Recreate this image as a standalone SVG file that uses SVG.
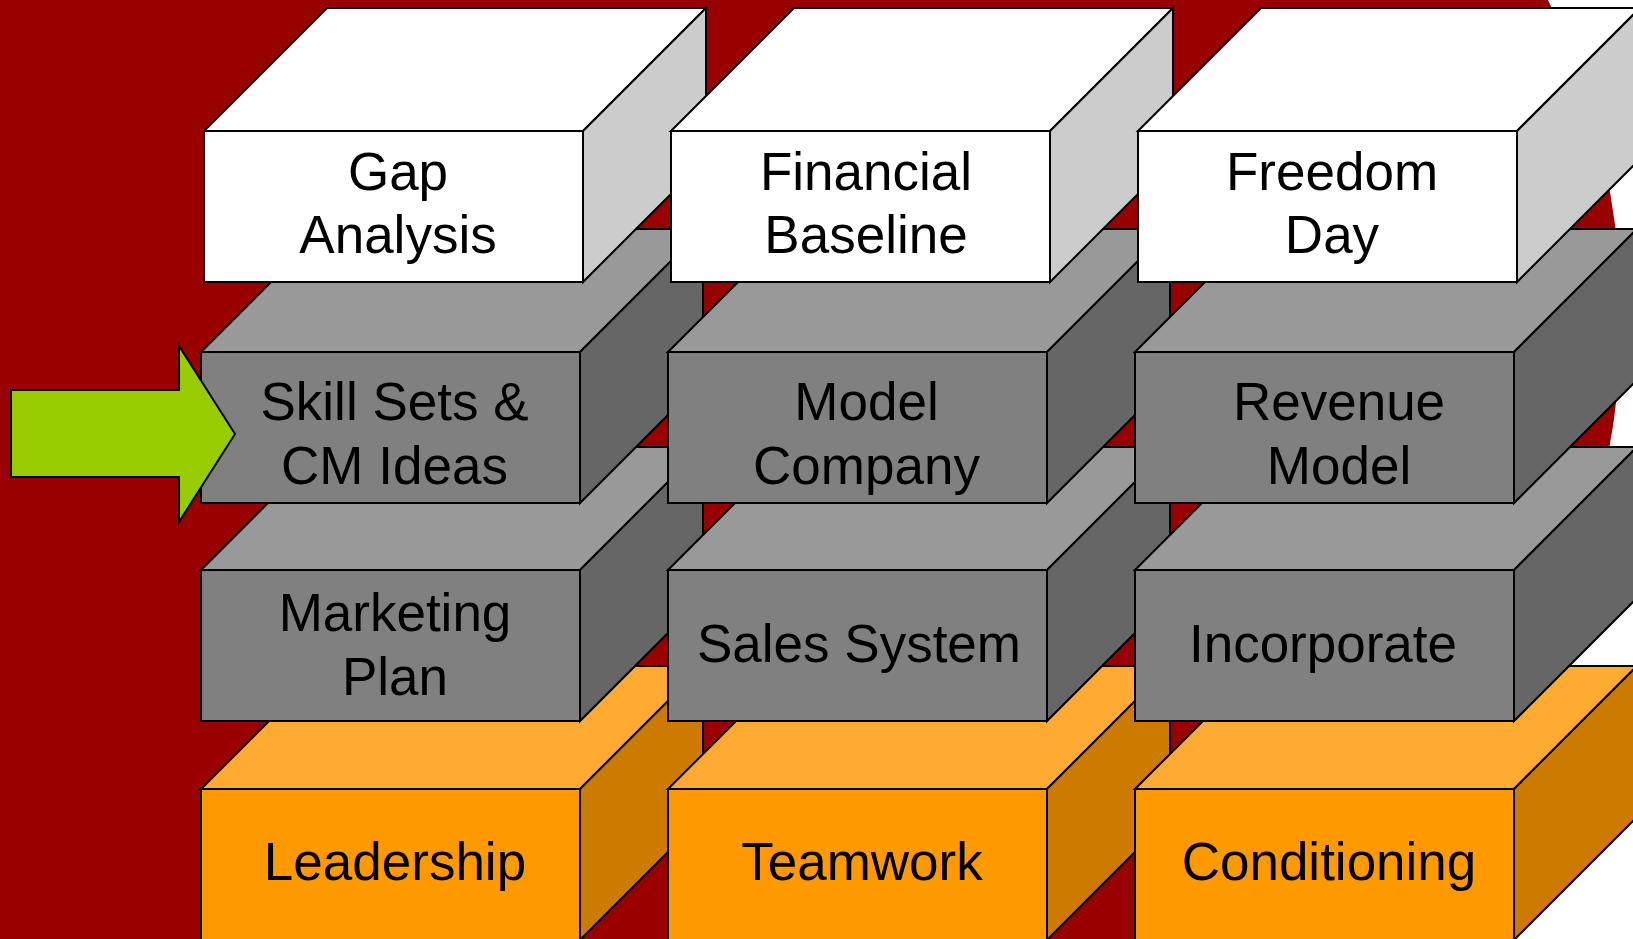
<svg xmlns="http://www.w3.org/2000/svg" xmlns:xlink="http://www.w3.org/1999/xlink" width="1633" height="939" viewBox="0 0 1633 939">
<style>
  .ln { stroke: #000; stroke-width: 2; stroke-linejoin: miter; }
  .wf { fill: #FFFFFF; } .wt { fill: #FFFFFF; } .ws { fill: #CCCCCC; }
  .gf { fill: #808080; } .gt { fill: #999999; } .gs { fill: #666666; }
  .of { fill: #FF9900; } .ot { fill: #FFAA33; } .os { fill: #CC7A00; }
  .lbl { font-family: "Liberation Sans", Arial, sans-serif; font-size: 53px; fill: #000; text-anchor: middle; }
</style>
<defs>
  <g id="boxW">
    <polygon class="ln wt" points="0,0 123,-123 502,-123 379,0"/>
    <polygon class="ln ws" points="379,0 502,-123 502,28 379,151"/>
    <rect class="ln wf" x="0" y="0" width="379" height="151"/>
  </g>
  <g id="boxG">
    <polygon class="ln gt" points="0,0 123,-123 502,-123 379,0"/>
    <polygon class="ln gs" points="379,0 502,-123 502,28 379,151"/>
    <rect class="ln gf" x="0" y="0" width="379" height="151"/>
  </g>
  <g id="boxO">
    <polygon class="ln ot" points="0,0 123,-123 502,-123 379,0"/>
    <polygon class="ln os" points="379,0 502,-123 502,28 379,151"/>
    <rect class="ln of" x="0" y="0" width="379" height="151"/>
  </g>
</defs>
<rect x="0" y="0" width="1633" height="939" fill="#FFFFFF"/>
<path d="M0,0 L1548,0 A729,729 0 0 1 1274,939 L0,939 Z" fill="#990000"/>

<g id="leadership"><use xlink:href="#boxO" x="201" y="789"/><text class="lbl" x="395" y="880">Leadership</text></g>
<g id="teamwork"><use xlink:href="#boxO" x="668" y="789"/><text class="lbl" x="862" y="880">Teamwork</text></g>
<g id="conditioning"><use xlink:href="#boxO" x="1135" y="789"/><text class="lbl" x="1329" y="880">Conditioning</text></g>

<g id="marketing-plan"><use xlink:href="#boxG" x="201" y="570"/><text class="lbl" x="395" y="631">Marketing</text><text class="lbl" x="395" y="695">Plan</text></g>
<g id="sales-system"><use xlink:href="#boxG" x="668" y="570"/><text class="lbl" x="859" y="662">Sales System</text></g>
<g id="incorporate"><use xlink:href="#boxG" x="1135" y="570"/><text class="lbl" x="1323" y="662">Incorporate</text></g>

<g id="skill-sets"><use xlink:href="#boxG" x="201" y="352"/><text class="lbl" x="394.5" y="420">Skill Sets &amp;</text><text class="lbl" x="394.5" y="484">CM Ideas</text></g>
<g id="model-company"><use xlink:href="#boxG" x="668" y="352"/><text class="lbl" x="866.5" y="420">Model</text><text class="lbl" x="866.5" y="484">Company</text></g>
<g id="revenue-model"><use xlink:href="#boxG" x="1135" y="352"/><text class="lbl" x="1339" y="420">Revenue</text><text class="lbl" x="1339" y="484">Model</text></g>

<g id="gap-analysis"><use xlink:href="#boxW" x="204" y="131"/><text class="lbl" x="398" y="190">Gap</text><text class="lbl" x="398" y="253">Analysis</text></g>
<g id="financial-baseline"><use xlink:href="#boxW" x="671" y="131"/><text class="lbl" x="866" y="190">Financial</text><text class="lbl" x="866" y="253">Baseline</text></g>
<g id="freedom-day"><use xlink:href="#boxW" x="1138" y="131"/><text class="lbl" x="1332" y="190">Freedom</text><text class="lbl" x="1332" y="253">Day</text></g>

<g id="connectors">
  <polygon class="ln" fill="#99CC00" points="11,390 179,390 179,346 235,434 179,522 179,477 11,477"/>
</g>
</svg>
